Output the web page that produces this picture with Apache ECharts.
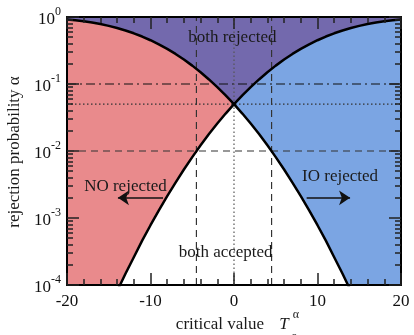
<!DOCTYPE html>
<html>
<head>
<meta charset="utf-8">
<script src="https://cdn.jsdelivr.net/npm/echarts@6/dist/echarts.min.js"></script>
<style>
  html, body { margin: 0; padding: 0; background: #ffffff; }
  #chart { width: 414px; height: 335px; }
</style>
</head>
<body>
<div id="chart"></div>
<script>
// critical value T_c (x) and rejection probabilities for the two hypotheses
const tc = [-20, -19, -18, -17, -16, -15, -14, -13, -12, -11, -10, -9, -8, -7, -6, -5, -4, -3, -2, -1,
            0, 1, 2, 3, 4, 5, 6, 7, 8, 9, 10, 11, 12, 13, 14, 15, 16, 17, 18, 19, 20];
const alphaNO = [0.918, 0.893, 0.862, 0.826, 0.784, 0.737, 0.686, 0.630, 0.571, 0.511,
                 0.450, 0.391, 0.334, 0.281, 0.232, 0.188, 0.150, 0.117, 0.090, 0.0678,
                 0.0500, 0.0362, 0.0257, 0.0179, 0.01215, 0.0081, 0.00529, 0.00338, 0.00212, 0.00130,
                 0.00078, 0.00046, 0.00026, 0.000147, 0.000081, 0.0000436, 0.000023, 0.0000118, 0.0000059, 0.0000029,
                 0.0000014];
const alphaIO = [0.0000014, 0.0000029, 0.0000059, 0.0000118, 0.000023, 0.0000436, 0.000081, 0.000147, 0.00026, 0.00046,
                 0.00078, 0.00130, 0.00212, 0.00338, 0.00529, 0.0081, 0.01215, 0.0179, 0.0257, 0.0362,
                 0.0500, 0.0678, 0.090, 0.117, 0.150, 0.188, 0.232, 0.281, 0.334, 0.391,
                 0.450, 0.511, 0.571, 0.630, 0.686, 0.737, 0.784, 0.826, 0.862, 0.893,
                 0.918];

// axis ranges and ticks
const xRange = [-20, 20];
const xMajor = 10;
const yRange = [1e-4, 1];
const yDecadeExp = [-4, -3, -2, -1, 0];

// reference levels
const levelDashDot = 0.1;
const levelDotted = 0.05;
const levelDashed = 0.01;
const tcAtDashed = [-4.5, 4.5];
const tcDotted = 0;

// annotation arrows [fromX, toX, y]
const arrowNO = [-8.5, -13.9, 0.002];
const arrowIO = [8.7, 13.9, 0.002];

// region labels [text, x, y]
const regionLabels = [
  ['both rejected', -0.2, 0.5],
  ['NO rejected', -13.0, 0.0029],
  ['IO rejected', 12.7, 0.0041],
  ['both accepted', -1.0, 0.00031]
];

const SERIF = '"Liberation Serif", "DejaVu Serif", serif';
const RED = '#e98a8c';
const BLUE = '#7ba5e3';
const PURPLE = '#7369ad';
const AXIS_Z = 20;

const pts = (ys) => tc.map((x, i) => [x, ys[i]]);
const lowerEnv = tc.map((x, i) => [x, Math.min(alphaNO[i], alphaIO[i])]);

// tick positions in decade-exponent space, for the tick-only axes
const expMin = yDecadeExp[0];
const expMax = yDecadeExp[yDecadeExp.length - 1];
const expMinor = [];
for (let e = expMin; e < expMax; e++) {
  for (let m = 2; m <= 9; m++) expMinor.push(e + Math.log10(m));
}

// log axis carrying the data and the 10^n labels
const dataAxis = {
  type: 'log', logBase: 10, min: yRange[0], max: yRange[1], position: 'left', z: AXIS_Z,
  axisLine: { show: true, onZero: false, lineStyle: { color: '#000', width: 2 } },
  axisTick: { show: false },
  axisLabel: {
    show: true, margin: 6,
    formatter: v => '{b|10}{s|' + Math.round(Math.log10(v)) + '}',
    rich: {
      b: { fontFamily: SERIF, fontSize: 17, color: '#111', verticalAlign: 'bottom', lineHeight: 22 },
      s: { fontFamily: SERIF, fontSize: 12, color: '#111', verticalAlign: 'top', lineHeight: 22 }
    }
  },
  splitLine: { show: false }
};

// linear axes over the decade exponent, drawing only the ticks
function tickAxis(pos, minor) {
  const ax = {
    type: 'value', min: expMin, max: expMax, position: pos, z: AXIS_Z,
    axisLine: { show: !minor && pos === 'right', onZero: false, lineStyle: { color: '#000', width: 2 } },
    axisTick: { show: true, inside: true, length: minor ? 6 : 12, lineStyle: { color: '#222', width: 1.5 } },
    axisLabel: { show: false },
    splitLine: { show: false }
  };
  if (minor) {
    ax.axisTick.customValues = expMinor;
  } else {
    ax.interval = 1;
  }
  return ax;
}

function linAxis(pos, labels) {
  return {
    type: 'value', min: xRange[0], max: xRange[1], interval: xMajor, position: pos, z: AXIS_Z,
    axisLine: { show: true, onZero: false, lineStyle: { color: '#000', width: 2 } },
    axisTick: { show: true, inside: true, length: 12, lineStyle: { color: '#222', width: 1.5 } },
    minorTick: { show: true, splitNumber: 5, length: 6, lineStyle: { color: '#222', width: 1.5 } },
    axisLabel: labels ? {
      show: true, margin: 8, fontFamily: SERIF, fontSize: 17, color: '#111',
      formatter: v => String(v)
    } : { show: false },
    splitLine: { show: false }
  };
}

function refLine(data, dash, color, width) {
  return {
    type: 'line', data: data, symbol: 'none', silent: true, z: 4,
    lineStyle: { color: color, width: width, type: dash }, animation: false
  };
}

function area(data, color, z) {
  return {
    type: 'line', data: data, symbol: 'none', silent: true, z: z,
    lineStyle: { width: 0 },
    areaStyle: { color: color, opacity: 1, origin: 'start' }, animation: false
  };
}

function curve(data) {
  return {
    type: 'line', data: data, symbol: 'none', silent: true, z: 6,
    lineStyle: { color: '#000', width: 2.5 }, animation: false
  };
}

const chart = echarts.init(document.getElementById('chart'), null, { renderer: 'canvas' });

chart.setOption({
  animation: false,
  grid: { left: 67, right: 13, top: 17, bottom: 50, show: true, backgroundColor: PURPLE, borderWidth: 0 },
  xAxis: [linAxis('bottom', true), linAxis('top', false)],
  yAxis: [dataAxis, tickAxis('left', false), tickAxis('left', true),
          tickAxis('right', false), tickAxis('right', true)],
  series: [
    area(pts(alphaNO), RED, 1),
    area(pts(alphaIO), BLUE, 2),
    area(lowerEnv, '#ffffff', 3),
    refLine([[xRange[0], levelDashDot], [xRange[1], levelDashDot]], [9, 4, 2, 4], '#111', 1.2),
    refLine([[xRange[0], levelDashed], [xRange[1], levelDashed]], [7, 5], '#333', 1.2),
    refLine([[xRange[0], levelDotted], [xRange[1], levelDotted]], [1.5, 2.5], '#333', 1.2),
    refLine([[tcDotted, yRange[0]], [tcDotted, yRange[1]]], [1.5, 2.5], '#555', 1.2),
    refLine([[tcAtDashed[0], yRange[0]], [tcAtDashed[0], yRange[1]]], [7, 5], '#333', 1.2),
    refLine([[tcAtDashed[1], yRange[0]], [tcAtDashed[1], yRange[1]]], [7, 5], '#333', 1.2),
    curve(pts(alphaNO)),
    curve(pts(alphaIO)),
    {
      type: 'line', data: [[arrowNO[0], arrowNO[2]], [arrowNO[1], arrowNO[2]]],
      symbol: 'none', silent: true, z: 7, lineStyle: { width: 0 },
      markLine: {
        silent: true, animation: false,
        symbol: ['none', 'arrow'], symbolSize: 11,
        label: { show: false },
        lineStyle: { color: '#111', width: 1.5, type: 'solid' },
        data: [
          [{ coord: [arrowNO[0], arrowNO[2]] }, { coord: [arrowNO[1], arrowNO[2]] }],
          [{ coord: [arrowIO[0], arrowIO[2]] }, { coord: [arrowIO[1], arrowIO[2]] }]
        ]
      }
    }
  ]
});

// region labels, axis titles
const g = [];
regionLabels.forEach(([txt, x, y]) => {
  const p = chart.convertToPixel({ gridIndex: 0 }, [x, y]);
  g.push({
    type: 'text', x: p[0], y: p[1], z: 100,
    style: { text: txt, fontFamily: SERIF, fontSize: 17, fill: '#1a1a1a', align: 'center', verticalAlign: 'middle' }
  });
});
g.push({
  type: 'text', x: 15, y: 152, rotation: Math.PI / 2, z: 100,
  style: { text: 'rejection probability α', fontFamily: SERIF, fontSize: 17, fill: '#1a1a1a', align: 'center', verticalAlign: 'middle' }
});
g.push({
  type: 'text', x: 220, y: 325, z: 100,
  style: { text: 'critical value', fontFamily: SERIF, fontSize: 17, fill: '#1a1a1a', align: 'center', verticalAlign: 'middle' }
});
g.push({
  type: 'text', x: 284, y: 325, z: 100,
  style: { text: 'T', fontFamily: SERIF, fontStyle: 'italic', fontSize: 17, fill: '#1a1a1a', align: 'center', verticalAlign: 'middle' }
});
g.push({
  type: 'text', x: 296, y: 315, z: 100,
  style: { text: 'α', fontFamily: SERIF, fontSize: 12, fill: '#1a1a1a', align: 'center', verticalAlign: 'middle' }
});
g.push({
  type: 'text', x: 294, y: 337, z: 100,
  style: { text: 'c', fontFamily: SERIF, fontSize: 12, fill: '#1a1a1a', align: 'center', verticalAlign: 'middle' }
});
chart.setOption({ graphic: g });
</script>
</body>
</html>
